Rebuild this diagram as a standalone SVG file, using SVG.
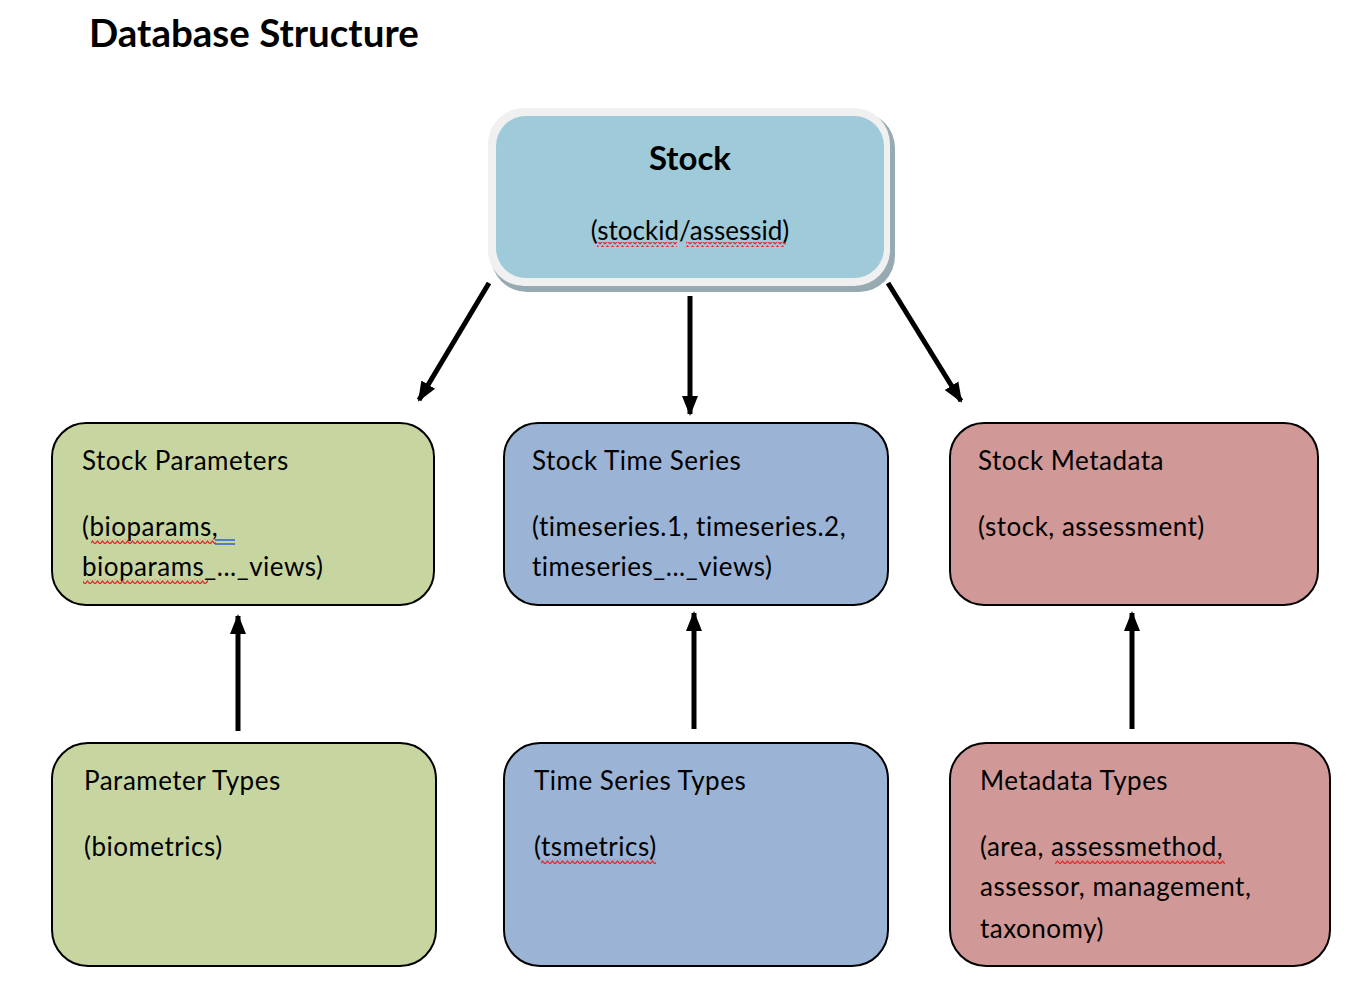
<svg xmlns="http://www.w3.org/2000/svg" width="1360" height="998" viewBox="0 0 1360 998">
<defs>
<style>
.t{font-family:Lato,"Liberation Sans",sans-serif;font-size:26px;letter-spacing:0.5px;fill:#000}
.b{font-weight:bold;letter-spacing:0}
.box{stroke:#000;stroke-width:2}
.con{stroke:#000;stroke-width:5;fill:none}
</style>
<marker id="ah" markerUnits="userSpaceOnUse" markerWidth="20" markerHeight="20" viewBox="0 0 20 20" refX="18" refY="10" orient="auto">
<path d="M0,2 L20,10 L0,18 z" fill="#000"/>
</marker>
<pattern id="wave" width="5" height="5" patternUnits="userSpaceOnUse">
<path d="M0,4 L2.5,1 L5,4" stroke="#e03030" stroke-width="1.3" fill="none"/>
</pattern>
</defs>
<rect width="1360" height="998" fill="#fff"/>
<text x="89" y="47" class="t b" style="font-size:38.5px">Database Structure</text>

<g id="stock">
<rect x="491" y="112" width="404" height="180" rx="36" fill="#97AAB2"/>
<rect x="488" y="108" width="402" height="178" rx="36" fill="#F0F0F0"/>
<rect x="496" y="116" width="388" height="162" rx="30" fill="#9FCAD9"/>
<text x="690" y="170" text-anchor="middle" class="t b" style="font-size:33px">Stock</text>
<text x="690" y="240" text-anchor="middle" class="t" style="font-size:26px;letter-spacing:0">(stockid/assessid)</text>
<rect x="597" y="242" width="80" height="5" fill="url(#wave)"/>
<rect x="686" y="242" width="100" height="5" fill="url(#wave)"/>
</g>

<g id="stock-parameters">
<rect x="52" y="423" width="382" height="182" rx="34" class="box" fill="#C7D5A0"/>
<text x="82" y="470" class="t">Stock Parameters</text>
<text x="82" y="536" class="t">(bioparams,</text>
<text x="82" y="576" class="t">bioparams_..._views)</text>
<rect x="91" y="539" width="125" height="5" fill="url(#wave)"/>
<path d="M215,540 H235 M215,544 H235" stroke="#3060d0" stroke-width="1.3"/>
<rect x="83" y="579" width="125" height="5" fill="url(#wave)"/>
</g>

<g id="stock-time-series">
<rect x="504" y="423" width="384" height="182" rx="34" class="box" fill="#9BB3D5"/>
<text x="532" y="470" class="t">Stock Time Series</text>
<text x="532" y="536" class="t">(timeseries.1, timeseries.2,</text>
<text x="532" y="576" class="t">timeseries_..._views)</text>
</g>

<g id="stock-metadata">
<rect x="950" y="423" width="368" height="182" rx="34" class="box" fill="#D09896"/>
<text x="978" y="470" class="t">Stock Metadata</text>
<text x="978" y="536" class="t">(stock, assessment)</text>
</g>

<g id="parameter-types">
<rect x="52" y="743" width="384" height="223" rx="36" class="box" fill="#C7D5A0"/>
<text x="84" y="790" class="t">Parameter Types</text>
<text x="84" y="856" class="t">(biometrics)</text>
</g>

<g id="time-series-types">
<rect x="504" y="743" width="384" height="223" rx="36" class="box" fill="#9BB3D5"/>
<text x="534" y="790" class="t">Time Series Types</text>
<text x="534" y="856" class="t">(tsmetrics)</text>
<rect x="541" y="859" width="115" height="5" fill="url(#wave)"/>
</g>

<g id="metadata-types">
<rect x="950" y="743" width="380" height="223" rx="36" class="box" fill="#D09896"/>
<text x="980" y="790" class="t">Metadata Types</text>
<text x="980" y="856" class="t">(area, assessmethod,</text>
<text x="980" y="896" class="t">assessor, management,</text>
<text x="980" y="938" class="t">taxonomy)</text>
<rect x="1055" y="859" width="170" height="5" fill="url(#wave)"/>
</g>

<g id="connectors">
<line x1="489" y1="283" x2="419" y2="400" class="con" marker-end="url(#ah)"/>
<line x1="690" y1="296" x2="690" y2="414" class="con" marker-end="url(#ah)"/>
<line x1="888" y1="283" x2="961" y2="401" class="con" marker-end="url(#ah)"/>
<line x1="238" y1="731" x2="238" y2="616" class="con" marker-end="url(#ah)"/>
<line x1="694" y1="729" x2="694" y2="613" class="con" marker-end="url(#ah)"/>
<line x1="1132" y1="729" x2="1132" y2="613" class="con" marker-end="url(#ah)"/>
</g>
</svg>
